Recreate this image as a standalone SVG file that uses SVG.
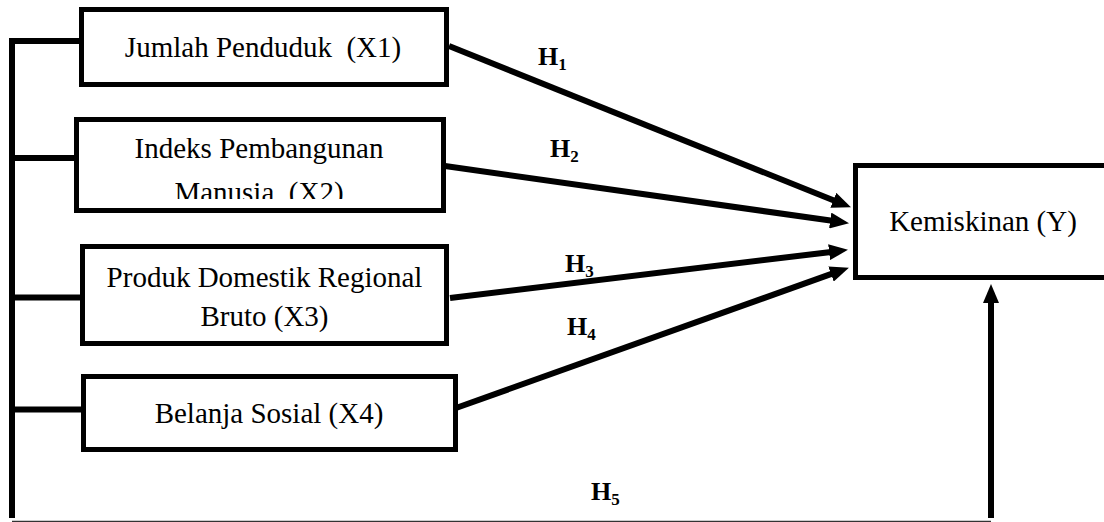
<svg xmlns="http://www.w3.org/2000/svg" width="1104" height="522" viewBox="0 0 1104 522">
  <style>
    .box { fill: #ffffff; stroke: #000000; stroke-width: 5; }
    .lbl { font-family: "Liberation Serif", "Times New Roman", serif; font-size: 29px; fill: #000000; text-anchor: middle; }
    .h { font-family: "Liberation Serif", "Times New Roman", serif; font-size: 26px; font-weight: bold; fill: #000000; }
    .sub { font-size: 17px; }
    .conn { stroke: #000000; stroke-width: 6; fill: none; }
    .arr { stroke: #000000; stroke-width: 6; fill: none; marker-end: url(#ah); }
  </style>
  <defs>
    <marker id="ah" markerUnits="userSpaceOnUse" markerWidth="20" markerHeight="16" viewBox="0 0 20 16" refX="2" refY="8" orient="auto">
      <path d="M0,0 L19,8 L0,16 z" fill="#000000"/>
    </marker>
    <clipPath id="clipX2">
      <rect x="0" y="120" width="1104" height="79"/>
    </clipPath>
  </defs>
  <rect x="0" y="0" width="1104" height="522" fill="#ffffff"/>

  <g id="connectors">
    <line class="conn" x1="12" y1="38" x2="12" y2="518"/>
    <line class="conn" x1="9" y1="41" x2="82" y2="41"/>
    <line class="conn" x1="12" y1="158" x2="77" y2="158"/>
    <line class="conn" x1="12" y1="297.5" x2="83" y2="297.5"/>
    <line class="conn" x1="12" y1="409.5" x2="84" y2="409.5"/>
    <line x1="12" y1="521.5" x2="991" y2="521.5" stroke="#333333" stroke-width="1.5"/>
    <line class="arr" x1="449" y1="46" x2="835.2" y2="201"/>
    <line class="arr" x1="445" y1="166" x2="832.2" y2="220.8"/>
    <line class="arr" x1="450" y1="298" x2="831.1" y2="251.9"/>
    <line class="arr" x1="456" y1="408" x2="832.9" y2="273.4"/>
    <line class="arr" stroke-width="5" x1="991" y1="518" x2="991" y2="301"/>
    <text class="h" x="538" y="65">H<tspan class="sub" dy="5">1</tspan></text>
    <text class="h" x="550" y="157">H<tspan class="sub" dy="5">2</tspan></text>
    <text class="h" x="565" y="272">H<tspan class="sub" dy="5">3</tspan></text>
    <text class="h" x="567" y="335">H<tspan class="sub" dy="5">4</tspan></text>
    <text class="h" x="591" y="500">H<tspan class="sub" dy="5">5</tspan></text>
  </g>

  <g id="node-x1">
    <rect class="box" x="81.5" y="9.5" width="365" height="75"/>
    <text class="lbl" x="263" y="57" xml:space="preserve">Jumlah Penduduk  (X1)</text>
  </g>
  <g id="node-x2">
    <rect class="box" x="76.5" y="119.5" width="367" height="91"/>
    <g clip-path="url(#clipX2)">
      <text class="lbl" x="259" y="158">Indeks Pembangunan</text>
      <text class="lbl" x="259" y="202" xml:space="preserve">Manusia  (X2)</text>
    </g>
  </g>
  <g id="node-x3">
    <rect class="box" x="82.5" y="246.5" width="364" height="97"/>
    <text class="lbl" x="264.5" y="287">Produk Domestik Regional</text>
    <text class="lbl" x="264.5" y="326">Bruto (X3)</text>
  </g>
  <g id="node-x4">
    <rect class="box" x="83.5" y="376.5" width="372" height="73"/>
    <text class="lbl" x="269" y="423">Belanja Sosial (X4)</text>
  </g>
  <g id="node-y">
    <rect class="box" x="855.5" y="165.5" width="260" height="112"/>
    <text class="lbl" x="983" y="231">Kemiskinan (Y)</text>
  </g>
</svg>
